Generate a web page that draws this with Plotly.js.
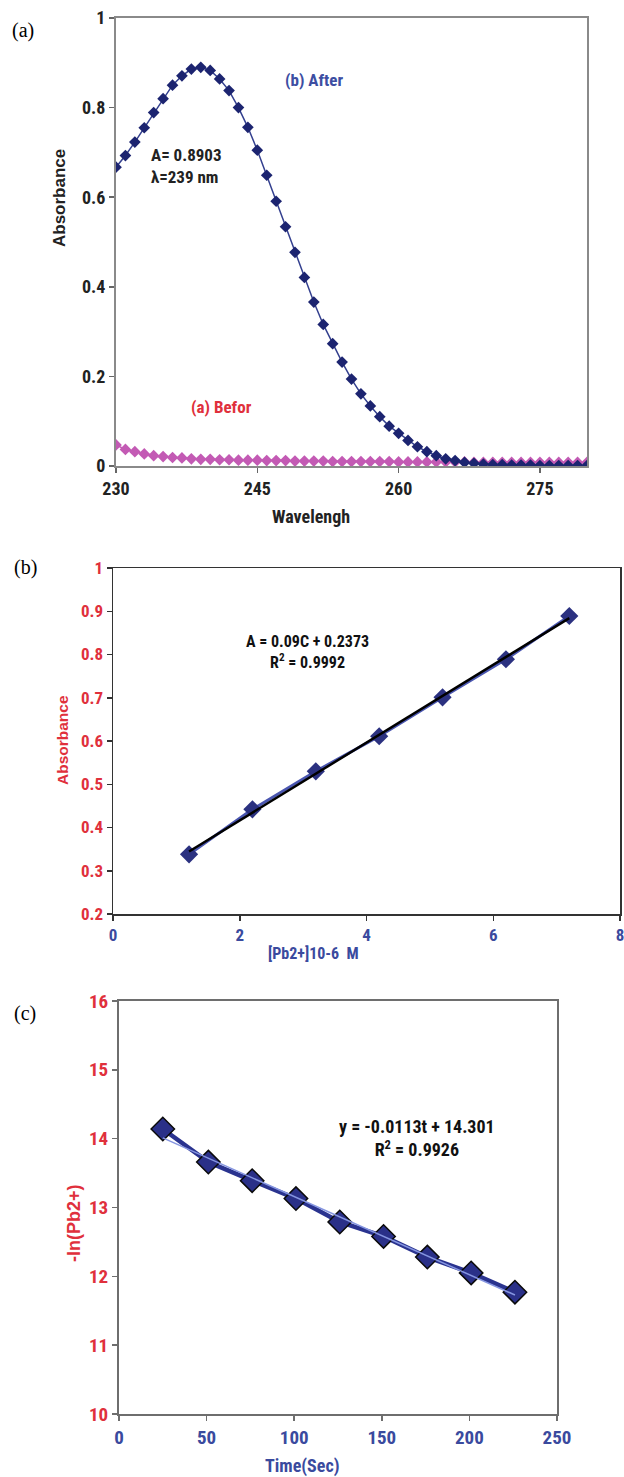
<!DOCTYPE html>
<html>
<head>
<meta charset="utf-8">
<script src="https://cdn.plot.ly/plotly-3.0.1.min.js"></script>
<style>html,body{margin:0;padding:0;background:#fff;}#chart{width:624px;height:1477px;}</style>
</head>
<body>
<div id="chart"></div>
<script>
// ---- Panel (a): UV spectra ----
const wavelength = [230,231,232,233,234,235,236,237,238,239,240,241,242,243,244,245,246,247,248,249,250,251,252,253,254,255,256,257,258,259,260,261,262,263,264,265,266,267,268,269,270,271,272,273,274,275,276,277,278,279,280];
const absAfter = [0.667,0.693,0.723,0.755,0.789,0.820,0.850,0.871,0.886,0.890,0.883,0.864,0.838,0.800,0.756,0.705,0.649,0.591,0.534,0.477,0.421,0.366,0.316,0.273,0.232,0.194,0.161,0.134,0.110,0.089,0.073,0.057,0.043,0.032,0.023,0.016,0.012,0.008,0.006,0.004,0.003,0.003,0.002,0.002,0.002,0.001,0.001,0.001,0.001,0.001,0.001];
const absBefore = [0.047,0.037,0.032,0.027,0.023,0.021,0.019,0.018,0.016,0.015,0.015,0.014,0.014,0.013,0.013,0.013,0.012,0.012,0.012,0.011,0.011,0.011,0.011,0.010,0.010,0.010,0.010,0.010,0.010,0.010,0.009,0.009,0.009,0.009,0.009,0.009,0.009,0.009,0.008,0.008,0.008,0.008,0.008,0.008,0.008,0.008,0.008,0.008,0.008,0.008,0.008];
const ticksA_x = [230,245,260,275];
const ticksA_y = [0,0.2,0.4,0.6,0.8,1];
const ticksA_ylab = ['0','0.2','0.4','0.6','0.8','1'];

// ---- Panel (b): calibration ----
const concPb = [1.2,2.2,3.2,4.2,5.2,6.2,7.2];
const absCal = [0.338,0.442,0.530,0.611,0.701,0.789,0.889];
const ticksB_x = [0,2,4,6,8];
const ticksB_y = [0.2,0.3,0.4,0.5,0.6,0.7,0.8,0.9,1];
const ticksB_ylab = ['0.2','0.3','0.4','0.5','0.6','0.7','0.8','0.9','1'];

// ---- Panel (c): kinetics ----
const timeSec = [25,51,76,101,126,151,176,201,226];
const lnPb = [14.14,13.66,13.39,13.13,12.79,12.58,12.28,12.05,11.77];
const ticksC_x = [0,50,100,150,200,250];
const ticksC_y = [10,11,12,13,14,15,16];

function linfit(xs, ys){
  const n = xs.length;
  const mx = xs.reduce((a,b)=>a+b,0)/n, my = ys.reduce((a,b)=>a+b,0)/n;
  let sxy=0,sxx=0;
  for(let i=0;i<n;i++){sxy+=(xs[i]-mx)*(ys[i]-my);sxx+=(xs[i]-mx)*(xs[i]-mx);}
  const m=sxy/sxx, b=my-m*mx;
  const x0=xs[0], x1=xs[n-1];
  return {x:[x0,x1], y:[m*x0+b, m*x1+b]};
}
const fitB = linfit(concPb, absCal);
const fitC = linfit(timeSec, lnPb);

const W=624, H=1477;
const px = v => v/W;
const py = v => 1 - v/H;

const NARROW = '"Liberation Sans Narrow", "Arial Narrow", "Roboto Condensed", "DejaVu Sans Condensed", sans-serif';
const SANS = '"Liberation Sans", Arial, sans-serif';
const SERIF = '"Liberation Serif", "Times New Roman", serif';
const RED = '#e0303c', BLUE = '#3a4a9e', DARK='#222222';

const traces = [
  {x: wavelength, y: absBefore, xaxis:'x', yaxis:'y', mode:'lines+markers', type:'scatter',
   line:{color:'#c35ab4', width:1.5}, marker:{symbol:'diamond', size:9, color:'#c35ab4'}, hoverinfo:'skip'},
  {x: wavelength, y: absAfter, xaxis:'x', yaxis:'y', mode:'lines+markers', type:'scatter',
   line:{color:'#34408f', width:1.5}, marker:{symbol:'diamond', size:9, color:'#1c2470'}, hoverinfo:'skip'},

  {x: concPb, y: absCal, xaxis:'x2', yaxis:'y2', mode:'lines+markers', type:'scatter',
   line:{color:'#4a56b0', width:3}, marker:{symbol:'diamond', size:14, color:'#2b3180'}, hoverinfo:'skip'},
  {x: fitB.x, y: fitB.y, xaxis:'x2', yaxis:'y2', mode:'lines', type:'scatter',
   line:{color:'#000000', width:2.5}, hoverinfo:'skip'},

  {x: timeSec, y: lnPb, xaxis:'x3', yaxis:'y3', mode:'lines+markers', type:'scatter',
   line:{color:'#2a338f', width:4.5}, marker:{symbol:'diamond', size:18, color:'#2a3088', line:{color:'#0a0a0a', width:1.5}}, hoverinfo:'skip'},
  {x: fitC.x, y: fitC.y, xaxis:'x3', yaxis:'y3', mode:'lines', type:'scatter',
   line:{color:'#8595e0', width:1.5}, hoverinfo:'skip'}
];

function axisCommon(extra){
  return Object.assign({showgrid:false, zeroline:false, showline:true, mirror:true,
    ticks:'outside', ticklen:5, tickwidth:1.5, fixedrange:true, ticklabeloverflow:'allow'}, extra);
}

function note(text, x, y, font, extra){
  return Object.assign({text:text, x:px(x), y:py(y), xref:'paper', yref:'paper',
    xanchor:'center', yanchor:'middle', showarrow:false, font:font}, extra || {});
}

const layout = {
  width: W, height: H,
  margin:{l:0,r:0,t:0,b:0},
  paper_bgcolor:'#ffffff', plot_bgcolor:'#ffffff',
  showlegend:false,
  font:{family:NARROW},
  xaxis: axisCommon({domain:[px(116),px(587)], range:[230,280], tickvals:ticksA_x, ticktext:ticksA_x.map(String),
    linecolor:'#8a8a8a', linewidth:2, tickcolor:'#666', anchor:'y',
    tickfont:{family:NARROW, size:18, color:DARK, weight:'bold'}}),
  yaxis: axisCommon({domain:[py(466),py(18)], range:[0,1], tickvals:ticksA_y, ticktext:ticksA_ylab,
    linecolor:'#8a8a8a', linewidth:2, tickcolor:'#666', anchor:'x',
    tickfont:{family:NARROW, size:18, color:DARK, weight:'bold'}}),

  xaxis2: axisCommon({domain:[px(113),px(620)], range:[0,8], tickvals:ticksB_x, ticktext:ticksB_x.map(String),
    linecolor:'#333', linewidth:1.5, tickcolor:'#333', anchor:'y2',
    tickfont:{family:NARROW, size:17, color:BLUE, weight:'bold'}}),
  yaxis2: axisCommon({domain:[py(914),py(568)], range:[0.2,1], tickvals:ticksB_y, ticktext:ticksB_ylab,
    linecolor:'#333', linewidth:1.5, tickcolor:'#333', anchor:'x2',
    tickfont:{family:NARROW, size:17, color:RED, weight:'bold'}}),

  xaxis3: axisCommon({domain:[px(119),px(557)], range:[0,250], tickvals:ticksC_x, ticktext:ticksC_x.map(String),
    linecolor:'#6e6e6e', linewidth:2, tickcolor:'#6e6e6e', anchor:'y3',
    tickfont:{family:NARROW, size:19, color:BLUE, weight:'bold'}}),
  yaxis3: axisCommon({domain:[py(1414),py(1001)], range:[10,16], tickvals:ticksC_y, ticktext:ticksC_y.map(String),
    linecolor:'#6e6e6e', linewidth:2, tickcolor:'#6e6e6e', anchor:'x3',
    tickfont:{family:NARROW, size:19, color:RED, weight:'bold'}}),

  annotations: [
    // panel labels
    note('(a)', 23, 30, {family:SERIF, size:20, color:'#000'}),
    note('(b)', 25, 567, {family:SERIF, size:20, color:'#000'}),
    note('(c)', 25, 1013, {family:SERIF, size:20, color:'#000'}),

    // panel (a)
    note('Absorbance', 60, 198, {family:SANS, size:17, color:DARK, weight:'bold'}, {textangle:-90}),
    note('Wavelengh', 311, 516, {family:NARROW, size:18, color:DARK, weight:'bold'}),
    note('A= 0.8903<br>λ=239 nm', 149, 166, {family:NARROW, size:17, color:DARK, weight:'bold'}, {xanchor:'left', align:'left'}),
    note('(b) After', 283, 80, {family:NARROW, size:17, color:'#3d4ea2', weight:'bold'}, {xanchor:'left'}),
    note('(a) Befor', 189, 407, {family:NARROW, size:17, color:'#e0303c', weight:'bold'}, {xanchor:'left'}),

    // panel (b)
    note('Absorbance', 62, 740, {family:SANS, size:15.5, color:RED, weight:'bold'}, {textangle:-90}),
    note('[Pb2+]10-6  M', 313, 953, {family:NARROW, size:16, color:BLUE, weight:'bold'}),
    note('A = 0.09C + 0.2373<br>R<sup>2</sup> = 0.9992', 307, 652, {family:NARROW, size:16, color:'#111', weight:'bold'}),

    // panel (c)
    note('-ln(Pb2+)', 74, 1223, {family:SANS, size:18, color:RED, weight:'bold'}, {textangle:-90}),
    note('Time(Sec)', 302, 1466, {family:NARROW, size:18, color:BLUE, weight:'bold'}),
    note('y = -0.0113t + 14.301<br>R<sup>2</sup> = 0.9926', 417, 1138, {family:NARROW, size:18, color:'#111', weight:'bold'})
  ]
};

Plotly.newPlot('chart', traces, layout, {staticPlot:true, displayModeBar:false});
</script>
</body>
</html>
